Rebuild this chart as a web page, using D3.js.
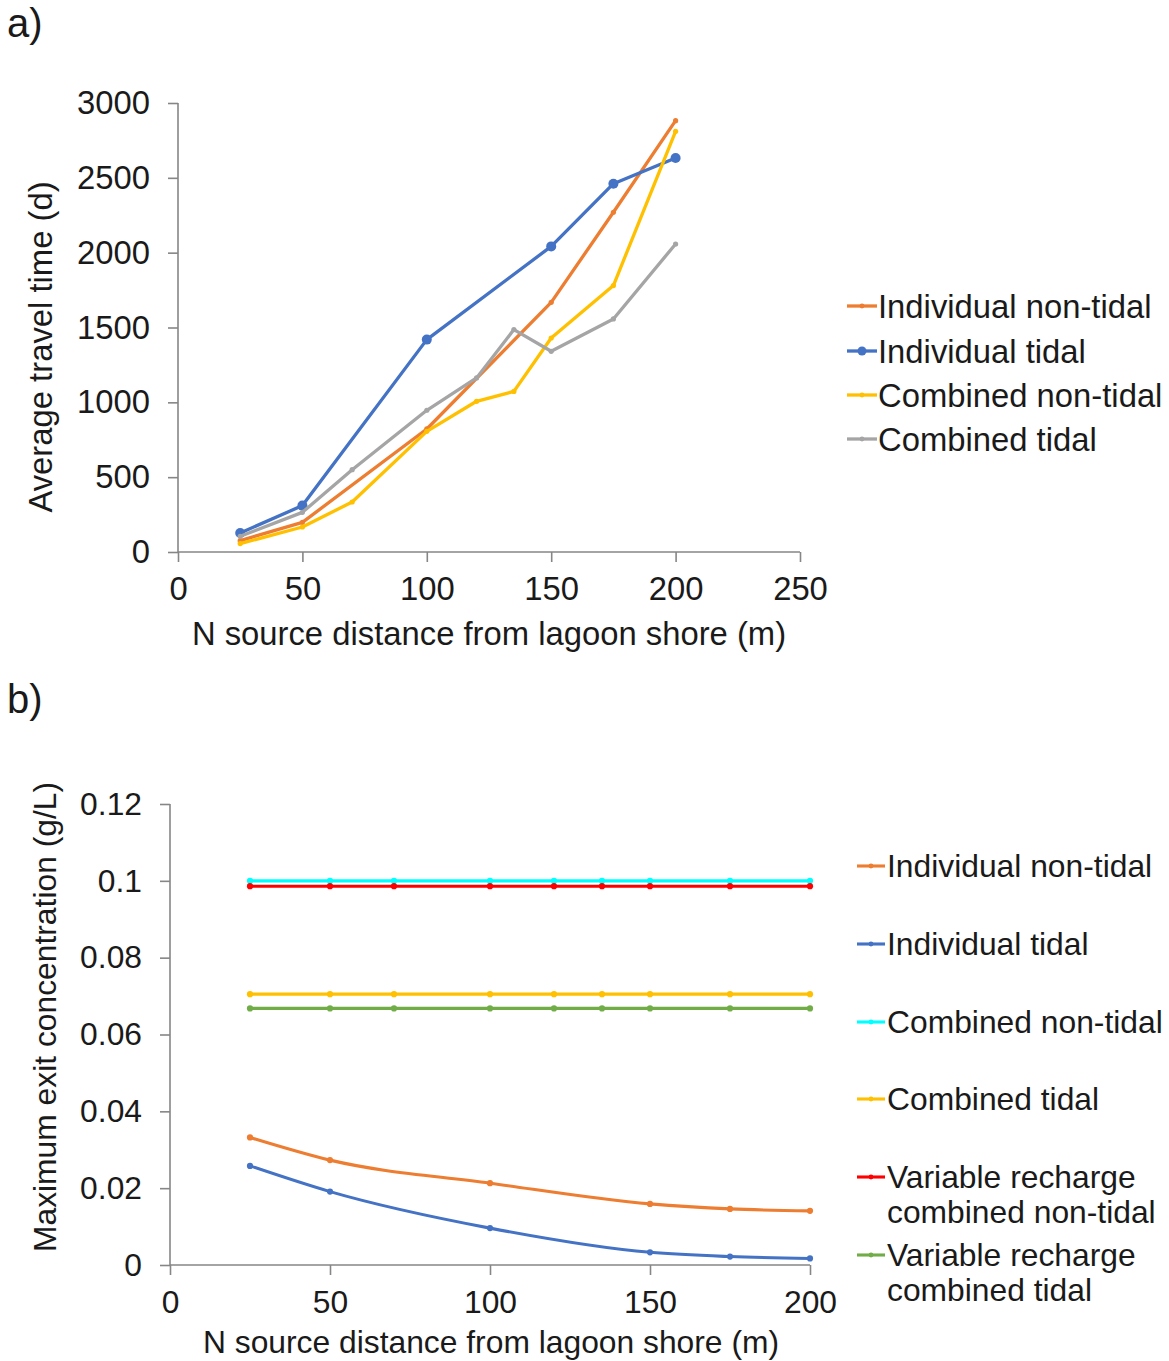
<!DOCTYPE html>
<html>
<head>
<meta charset="utf-8">
<script src="https://cdn.jsdelivr.net/npm/d3@7"></script>
<style>
  html, body { margin: 0; padding: 0; background: #ffffff; }
  svg { display: block; font-family: "Liberation Sans", Arial, sans-serif; }
</style>
</head>
<body>
<svg id="fig" width="1169" height="1361"></svg>
<script>
// ---- Panel a: average travel time (d) vs. source distance (m) ----
const distIndivA = [25, 50, 100, 150, 175, 200];
const distCombA = [25, 50, 70, 100, 120, 135, 150, 175, 200];
const indivNonTidalA = [76, 198, 822, 1668, 2270, 2882];
const indivTidalA = [127, 310, 1419, 2042, 2461, 2633];
const combNonTidalA = [56, 167, 334, 806, 1007, 1073, 1430, 1780, 2811];
const combTidalA = [105, 265, 550, 947, 1163, 1486, 1341, 1557, 2058];
const xTicksA = [0, 50, 100, 150, 200, 250];
const yTicksA = [0, 500, 1000, 1500, 2000, 2500, 3000];
const legendA = ["Individual non-tidal", "Individual tidal", "Combined non-tidal", "Combined tidal"];

// ---- Panel b: maximum exit concentration (g/L) vs. source distance (m) ----
const distIndivB = [25, 50, 100, 150, 175, 200];
const distCombB = [25, 50, 70, 100, 120, 135, 150, 175, 200];
const indivNonTidalB = [0.0332, 0.0273, 0.0213, 0.0159, 0.0146, 0.0141];
const indivTidalB = [0.0258, 0.0191, 0.0096, 0.0033, 0.0022, 0.0017];
const combNonTidalB = [0.1, 0.1, 0.1, 0.1, 0.1, 0.1, 0.1, 0.1, 0.1];
const combTidalB = [0.0705, 0.0705, 0.0705, 0.0705, 0.0705, 0.0705, 0.0705, 0.0705, 0.0705];
const varCombNonTidalB = [0.0986, 0.0986, 0.0986, 0.0986, 0.0986, 0.0986, 0.0986, 0.0986, 0.0986];
const varCombTidalB = [0.0668, 0.0668, 0.0668, 0.0668, 0.0668, 0.0668, 0.0668, 0.0668, 0.0668];
const xTicksB = [0, 50, 100, 150, 200];
const yTicksB = [0, 0.02, 0.04, 0.06, 0.08, 0.1, 0.12];
const legendB = [
  ["Individual non-tidal"],
  ["Individual tidal"],
  ["Combined non-tidal"],
  ["Combined tidal"],
  ["Variable recharge", "combined non-tidal"],
  ["Variable recharge", "combined tidal"]
];

const C = {
  orange: "#ED7D31", blue: "#4472C4", yellow: "#FFC000", gray: "#A5A5A5",
  cyan: "#00FFFF", red: "#FF0000", green: "#70AD47"
};
const AXIS = "#868686";
const TEXT = "#1a1a1a";
const FONT_A = 32.8;
const FONT_B = 31.8;

const svg = d3.select("#fig");

function zip(xs, ys) { return xs.map((x, i) => ({ x, y: ys[i] })); }

function drawAxes(g, x, y, xTicks, yTicks, yFmt, fontSize) {
  const ax = g.append("g").attr("transform", `translate(0,${y.range()[0]})`)
    .call(d3.axisBottom(x).tickValues(xTicks).tickSize(10).tickPadding(15).tickFormat(d3.format("d")));
  const ay = g.append("g").attr("transform", `translate(${x.range()[0]},0)`)
    .call(d3.axisLeft(y).tickValues(yTicks).tickSize(10).tickPadding(18).tickFormat(yFmt));
  [ax, ay].forEach(a => {
    a.select(".domain").attr("stroke", AXIS).attr("stroke-width", 1.6);
    a.selectAll(".tick line").attr("stroke", AXIS).attr("stroke-width", 1.6);
    a.selectAll(".tick text").attr("fill", TEXT).attr("font-size", fontSize)
      .attr("font-family", "'Liberation Sans', Arial, sans-serif");
  });
  // plain spines without the outer end ticks
  ay.select(".domain").attr("d", `M0,${y.range()[0]}V${y.range()[1]}`);
  ax.select(".domain").attr("d", `M${x.range()[0]},0H${x.range()[1]}`);
  return { ax, ay };
}

function drawSeries(g, x, y, pts, color, width, r, curve) {
  const line = d3.line().x(d => x(d.x)).y(d => y(d.y)).curve(curve);
  g.append("path").datum(pts).attr("d", line)
    .attr("fill", "none").attr("stroke", color).attr("stroke-width", width)
    .attr("stroke-linejoin", "round").attr("stroke-linecap", "round");
  g.selectAll(null).data(pts).enter().append("circle")
    .attr("cx", d => x(d.x)).attr("cy", d => y(d.y)).attr("r", r).attr("fill", color);
}

// ================= Panel a =================
{
  const x = d3.scaleLinear().domain([0, 250]).range([178, 800]);
  const y = d3.scaleLinear().domain([0, 3000]).range([552, 103]);
  const g = svg.append("g");

  svg.append("text").attr("x", 7).attr("y", 37).attr("font-size", 40).attr("fill", TEXT).text("a)");

  drawAxes(g, x, y, xTicksA, yTicksA, d3.format("d"), FONT_A);

  const series = [
    { pts: zip(distIndivA, indivNonTidalA), color: C.orange, r: 2.6 },
    { pts: zip(distIndivA, indivTidalA), color: C.blue, r: 5 },
    { pts: zip(distCombA, combNonTidalA), color: C.yellow, r: 2.6 },
    { pts: zip(distCombA, combTidalA), color: C.gray, r: 2.6 }
  ];
  series.forEach(s => drawSeries(g, x, y, s.pts, s.color, 3.3, s.r, d3.curveLinear));

  g.append("text").attr("x", 489).attr("y", 645).attr("text-anchor", "middle")
    .attr("font-size", FONT_A).attr("fill", TEXT).text("N source distance from lagoon shore (m)");
  g.append("text").attr("transform", "translate(52,347) rotate(-90)").attr("text-anchor", "middle")
    .attr("font-size", FONT_A).attr("fill", TEXT).text("Average travel time (d)");

  const lg = svg.append("g");
  const ys = [306, 351, 395, 439];
  legendA.forEach((name, i) => {
    const s = series[i];
    lg.append("line").attr("x1", 847).attr("x2", 877).attr("y1", ys[i]).attr("y2", ys[i])
      .attr("stroke", s.color).attr("stroke-width", 3.3);
    lg.append("circle").attr("cx", 862).attr("cy", ys[i]).attr("r", s.r === 5 ? 4.5 : 2.4).attr("fill", s.color);
    lg.append("text").attr("x", 878).attr("y", ys[i]).attr("dy", "0.36em")
      .attr("font-size", FONT_A).attr("fill", TEXT).text(name);
  });
}

// ================= Panel b =================
{
  const x = d3.scaleLinear().domain([0, 200]).range([170, 810]);
  const y = d3.scaleLinear().domain([0, 0.12]).range([1265, 804]);
  const g = svg.append("g");

  svg.append("text").attr("x", 7).attr("y", 713).attr("font-size", 40).attr("fill", TEXT).text("b)");

  drawAxes(g, x, y, xTicksB, yTicksB, d => d === 0 ? "0" : String(+d.toFixed(2)), FONT_B);

  const series = [
    { pts: zip(distIndivB, indivNonTidalB), color: C.orange },
    { pts: zip(distIndivB, indivTidalB), color: C.blue },
    { pts: zip(distCombB, combNonTidalB), color: C.cyan },
    { pts: zip(distCombB, combTidalB), color: C.yellow },
    { pts: zip(distCombB, varCombNonTidalB), color: C.red },
    { pts: zip(distCombB, varCombTidalB), color: C.green }
  ];
  series.forEach(s => drawSeries(g, x, y, s.pts, s.color, 3.1, 3.1, d3.curveMonotoneX));

  g.append("text").attr("x", 491).attr("y", 1353).attr("text-anchor", "middle")
    .attr("font-size", FONT_B).attr("fill", TEXT).text("N source distance from lagoon shore (m)");
  g.append("text").attr("transform", "translate(56,1017) rotate(-90)").attr("text-anchor", "middle")
    .attr("font-size", FONT_B).attr("fill", TEXT).text("Maximum exit concentration (g/L)");

  const lg = svg.append("g");
  const ys = [866, 944, 1022, 1099, 1177, 1255];
  legendB.forEach((lines, i) => {
    const s = series[i];
    lg.append("line").attr("x1", 857).attr("x2", 885).attr("y1", ys[i]).attr("y2", ys[i])
      .attr("stroke", s.color).attr("stroke-width", 3.1);
    lg.append("circle").attr("cx", 871).attr("cy", ys[i]).attr("r", 2.4).attr("fill", s.color);
    lines.forEach((t, j) => {
      lg.append("text").attr("x", 887).attr("y", ys[i] + j * 35).attr("dy", "0.36em")
        .attr("font-size", FONT_B).attr("fill", TEXT).text(t);
    });
  });
}
</script>
</body>
</html>
